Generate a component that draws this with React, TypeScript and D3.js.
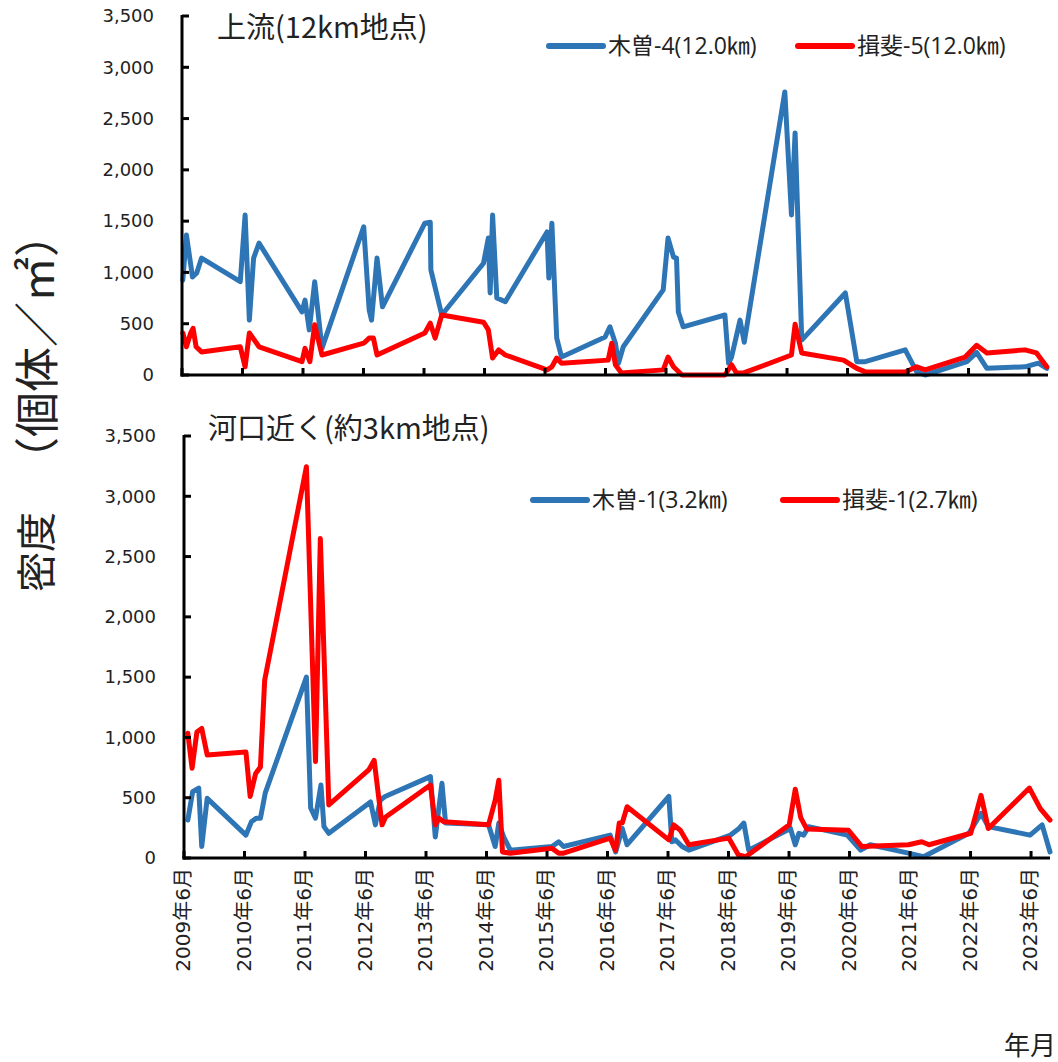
import * as d3 from "d3";

// survey dates as decimal years, densities per m2
const tickYears = [2009, 2010, 2011, 2012, 2013, 2014, 2015, 2016, 2017, 2018, 2019, 2020, 2021, 2022, 2023];
const yTickValues = [0, 500, 1000, 1500, 2000, 2500, 3000, 3500];

const kiso4Dates = [
  2009.43, 2009.49, 2009.59, 2009.66, 2009.74, 2010.38, 2010.46, 2010.53, 2010.6, 2010.69,
  2011.4, 2011.45, 2011.52, 2011.61, 2011.73, 2012.42, 2012.51, 2012.55, 2012.64, 2012.73,
  2013.43, 2013.52, 2013.53, 2013.71, 2014.4, 2014.48, 2014.51, 2014.55, 2014.62, 2014.76,
  2015.45, 2015.48, 2015.53, 2015.61, 2015.69, 2016.41, 2016.49, 2016.58, 2016.63, 2016.71,
  2017.37, 2017.45, 2017.54, 2017.59, 2017.62, 2017.7, 2018.39, 2018.45, 2018.5, 2018.64,
  2018.71, 2019.38, 2019.49, 2019.55, 2019.66, 2020.38, 2020.57, 2020.71, 2021.37, 2021.56,
  2021.7, 2022.39, 2022.55, 2022.72, 2023.35, 2023.57, 2023.71,
];
const kiso4Values = [
  925, 1365, 955, 995, 1140, 910, 1560, 535, 1140, 1285,
  615, 730, 440, 910, 260, 1445, 635, 535, 1140, 665,
  1480, 1490, 1025, 585, 1090, 1335, 800, 1560, 750, 715,
  1395, 945, 1480, 360, 175, 370, 470, 310, 115, 275,
  830, 1335, 1150, 1140, 615, 470, 585, 115, 175, 535,
  320, 2760, 1560, 2360, 340, 800, 130, 130, 245, 30,
  0, 130, 220, 65, 80, 115, 65,
];

const ibi5Dates = [
  2009.43, 2009.49, 2009.56, 2009.6, 2009.65, 2009.74, 2010.38, 2010.46, 2010.53, 2010.69,
  2011.4, 2011.45, 2011.53, 2011.61, 2011.73, 2012.42, 2012.51, 2012.58, 2012.64, 2013.43,
  2013.52, 2013.6, 2013.71, 2014.4, 2014.48, 2014.55, 2014.65, 2014.76, 2015.45, 2015.53,
  2015.61, 2015.69, 2016.46, 2016.52, 2016.58, 2016.68, 2017.37, 2017.45, 2017.54, 2017.68,
  2018.39, 2018.5, 2018.58, 2018.7, 2019.49, 2019.55, 2019.66, 2020.35, 2020.57, 2020.71,
  2021.37, 2021.56, 2021.7, 2022.36, 2022.55, 2022.72, 2023.35, 2023.54, 2023.71,
];
const ibi5Values = [
  410, 275, 410, 455, 275, 225, 275, 80, 410, 275,
  130, 260, 130, 490, 195, 310, 360, 360, 195, 410,
  505, 360, 585, 515, 440, 165, 245, 195, 50, 80,
  165, 115, 145, 310, 100, 20, 50, 175, 80, 0,
  0, 100, 20, 20, 195, 495, 215, 145, 65, 30,
  30, 80, 50, 175, 290, 215, 245, 215, 80,
];

const kiso1Dates = [
  2009.48, 2009.56, 2009.66, 2009.71, 2009.8, 2010.44, 2010.53, 2010.61, 2010.68, 2010.76,
  2011.44, 2011.51, 2011.59, 2011.68, 2011.73, 2011.81, 2012.5, 2012.58, 2012.66, 2012.74,
  2013.49, 2013.57, 2013.68, 2013.74, 2014.45, 2014.56, 2014.62, 2014.7, 2014.81, 2015.5,
  2015.61, 2015.69, 2016.46, 2016.55, 2016.66, 2016.74, 2017.43, 2017.48, 2017.54, 2017.65,
  2017.76, 2018.45, 2018.59, 2018.67, 2018.75, 2019.44, 2019.52, 2019.58, 2019.66, 2019.74,
  2020.38, 2020.6, 2020.76, 2021.39, 2021.64, 2022.39, 2022.59, 2022.71, 2023.4, 2023.6,
  2023.73,
];
const kiso1Values = [
  315, 550, 580, 95, 495, 190, 300, 330, 330, 540,
  1500, 415, 330, 605, 260, 205, 465, 275, 480, 510,
  675, 175, 620, 290, 275, 95, 290, 175, 65, 95,
  135, 95, 190, 50, 245, 110, 510, 135, 150, 95,
  65, 190, 245, 290, 65, 245, 110, 205, 190, 260,
  190, 65, 110, 40, 10, 205, 370, 260, 190, 275,
  50,
];

const ibi1Dates = [
  2009.48, 2009.55, 2009.63, 2009.71, 2009.8, 2010.44, 2010.51, 2010.6, 2010.68, 2010.75,
  2011.44, 2011.59, 2011.67, 2011.81, 2012.47, 2012.56, 2012.69, 2012.75, 2013.49, 2013.57,
  2013.63, 2013.71, 2014.45, 2014.56, 2014.62, 2014.68, 2014.81, 2015.5, 2015.61, 2015.69,
  2016.46, 2016.55, 2016.61, 2016.66, 2016.74, 2017.43, 2017.51, 2017.62, 2017.76, 2018.42,
  2018.5, 2018.58, 2018.7, 2019.42, 2019.52, 2019.61, 2019.71, 2020.4, 2020.62, 2021.39,
  2021.61, 2021.73, 2022.42, 2022.59, 2022.71, 2023.39, 2023.57, 2023.73,
];
const ibi1Values = [
  1035, 745, 1045, 1075, 855, 880, 510, 700, 755, 1475,
  3245, 800, 2650, 440, 730, 810, 275, 340, 605, 275,
  330, 300, 275, 480, 645, 50, 40, 80, 40, 40,
  165, 65, 290, 290, 425, 150, 275, 230, 110, 165,
  95, 25, 10, 275, 570, 335, 240, 230, 95, 110,
  135, 110, 205, 520, 245, 580, 410, 315,
];

const BLUE = "#2E75B6";
const RED = "#FF0000";
const TEXT = "#222";
const LATIN = "'Open Sans', 'Noto Sans CJK JP', sans-serif";
const CJK = "'Noto Sans CJK JP', sans-serif";
const DOMAIN = [2009 + 5 / 12, 2023.73];

type Series = { dates: number[]; values: number[]; color: string; label: string; legendX: number };

function Panel(props: {
  left: number; right: number; top: number; bottom: number;
  labelX: number; title: string; titleX: number; titleY: number;
  legendY: number; series: Series[]; showDates: boolean;
}) {
  const { left, right, top, bottom } = props;
  const x = d3.scaleLinear().domain(DOMAIN).range([left, right]);
  const y = d3.scaleLinear().domain([0, 3500]).range([bottom, top]);
  const line = d3.line<[number, number]>().x((d) => x(d[0])).y((d) => y(d[1]));
  const fmt = d3.format(",");

  return (
    <g>
      {props.series.map((s) => (
        <path key={s.label} d={line(d3.zip(s.dates, s.values) as [number, number][]) || ""}
          fill="none" stroke={s.color} strokeWidth={5} strokeLinejoin="round" strokeLinecap="round" />
      ))}
      {/* axes */}
      <line x1={left} x2={left} y1={top - 1} y2={bottom + 1.5} stroke="#000" strokeWidth={3} />
      <line x1={left - 1.5} x2={right} y1={bottom} y2={bottom} stroke="#000" strokeWidth={3} />
      {yTickValues.map((v) => (
        <g key={v}>
          <line x1={left} x2={left + 7} y1={y(v)} y2={y(v)} stroke="#000" strokeWidth={3} />
          <text x={props.labelX} y={y(v)} dy="0.35em" textAnchor="end" fontSize={18}
            fontFamily="'DejaVu Sans', sans-serif" fill={TEXT}>{fmt(v)}</text>
        </g>
      ))}
      {tickYears.map((yr) => (
        <g key={yr}>
          <line x1={x(yr + 5 / 12)} x2={x(yr + 5 / 12)} y1={bottom} y2={bottom - 7} stroke="#000" strokeWidth={3} />
          {props.showDates && (
            <text transform={`translate(${x(yr + 5 / 12) - 1},${bottom + 10}) rotate(-90)`}
              textAnchor="end" dominantBaseline="central" fontSize={20}
              fontFamily="'DejaVu Sans', 'Noto Sans CJK JP', sans-serif" fill={TEXT}>{`${yr}年6月`}</text>
          )}
        </g>
      ))}
      <text x={props.titleX} y={props.titleY} fontSize={29} fontFamily={CJK} fill={TEXT}>{props.title}</text>
      {props.series.map((s) => (
        <g key={"lg" + s.label}>
          <line x1={s.legendX} x2={s.legendX + 54} y1={props.legendY} y2={props.legendY}
            stroke={s.color} strokeWidth={6} strokeLinecap="round" />
          <text x={s.legendX + 59} y={props.legendY + 8} fontSize={23} fontFamily={LATIN} fill={TEXT}>{s.label}</text>
        </g>
      ))}
    </g>
  );
}

export default function App() {
  return (
    <svg width={1058} height={1062} style={{ position: "absolute", left: 0, top: 0, background: "#fff" }}>
      <rect width={1058} height={1062} fill="#fff" />
      <Panel left={182} right={1048} top={16} bottom={375} labelX={154}
        title="上流(12km地点)" titleX={217} titleY={38} legendY={46} showDates={false}
        series={[
          { dates: kiso4Dates, values: kiso4Values, color: BLUE, label: "木曽-4(12.0㎞)", legendX: 549 },
          { dates: ibi5Dates, values: ibi5Values, color: RED, label: "揖斐-5(12.0㎞)", legendX: 798 },
        ]} />
      <Panel left={184} right={1050} top={436} bottom={858} labelX={156}
        title="河口近く(約3km地点)" titleX={208} titleY={439} legendY={500} showDates={true}
        series={[
          { dates: kiso1Dates, values: kiso1Values, color: BLUE, label: "木曽-1(3.2㎞)", legendX: 533 },
          { dates: ibi1Dates, values: ibi1Values, color: RED, label: "揖斐-1(2.7㎞)", legendX: 783 },
        ]} />
      <text transform="translate(34,592) rotate(-90)" dominantBaseline="central" fontFamily={CJK} fill={TEXT}>
        <tspan fontSize={40}>密度</tspan>
        <tspan fontSize={45} dx={30}>（個体／㎡）</tspan>
      </text>
      <text x={1056} y={1055} textAnchor="end" fontSize={26} fontFamily={CJK} fill={TEXT}>年月</text>
    </svg>
  );
}
